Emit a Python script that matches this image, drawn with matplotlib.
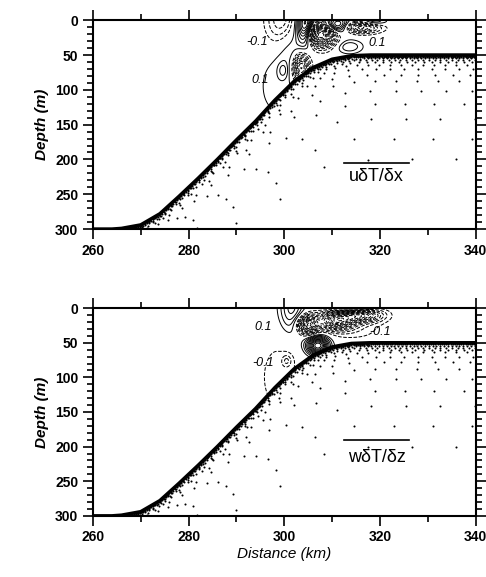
import numpy as np
import matplotlib.pyplot as plt
from matplotlib.lines import Line2D

plt.rcParams['font.family'] = ['Liberation Sans', 'DejaVu Sans']

# bottom profile (km, m)
shelf_x = [260, 264, 266, 270, 274, 278, 282, 286, 290, 294, 298, 302, 306, 310, 314, 318, 340]
shelf_depth = [300, 300, 299, 294, 278, 253, 227, 200, 172, 145, 115, 88, 68, 56, 51, 50, 50]

# contour field, described as blobs (centre km, centre m, width km, width m, amplitude)
top_bx = [299.3, 304.5, 307.5, 311.0, 315.5, 318.5, 303.5, 313.5, 299.7, 301.5, 298.5]
top_bz = [0.0, 10.0, 20.0, 8.0, 10.0, 2.0, 68.0, 38.0, 72.0, 40.0, 95.0]
top_bsx = [2.2, 1.3, 2.2, 2.0, 3.0, 2.0, 1.2, 2.0, 0.75, 2.0, 3.0]
top_bsz = [25.0, 18.0, 12.0, 8.0, 6.0, 4.0, 14.0, 7.0, 8.0, 25.0, 35.0]
top_bamp = [-0.4, 1.2, -1.5, 1.0, -0.8, 0.4, -1.0, 0.3, 0.2, 0.2, 0.16]

bot_bx = [301.5, 305.0, 311.0, 316.0, 314.0, 307.0, 300.5, 299.0, 315.0]
bot_bz = [0.0, 24.0, 18.0, 10.0, 0.0, 54.0, 76.0, 100.0, 30.0]
bot_bsx = [1.8, 1.5, 2.5, 3.0, 3.0, 1.6, 0.7, 3.5, 4.0]
bot_bsz = [25.0, 9.0, 9.0, 7.0, 5.0, 9.0, 6.0, 45.0, 12.0]
bot_bamp = [0.45, -1.2, -1.2, -1.0, 0.6, 1.2, -0.22, -0.15, -0.15]

levels = [-1.5, -1.4, -1.3, -1.2, -1.1, -1.0, -0.9, -0.8, -0.7, -0.6, -0.5, -0.4, -0.3, -0.2, -0.1,
          0.1, 0.2, 0.3, 0.4, 0.5, 0.6, 0.7, 0.8, 0.9, 1.0, 1.1, 1.2, 1.3, 1.4, 1.5]

# stipple rows below the bottom: offset (m) and dot spacing (km)
stip_off = [1.0, 2.5, 4.5, 7.0, 10.0, 14.0, 20.0, 28.0, 38.0, 52.0, 70.0, 92.0, 120.0, 150.0]
stip_dx = [0.25, 0.45, 0.8, 1.2, 1.7, 2.3, 2.9, 3.6, 4.4, 5.3, 6.2, 7.2, 8.2, 9.2]

top_labels = [(294.4, 31, '-0.1'), (319.5, 33, '0.1'), (295.0, 86, '0.1')]
bot_labels = [(295.5, 27, '0.1'), (320.0, 35, '-0.1'), (295.5, 79, '-0.1')]

gx = np.linspace(260, 340, 801)
gz = np.linspace(0, 300, 601)
X, Z = np.meshgrid(gx, gz)
bottom = np.interp(gx, shelf_x, shelf_depth)


def field(bx, bz, bsx, bsz, bamp):
    f = np.zeros_like(X)
    for a, b, c, d, e in zip(bx, bz, bsx, bsz, bamp):
        f += e * np.exp(-0.5 * ((X - a) / c) ** 2 - 0.5 * ((Z - b) / d) ** 2)
    return np.ma.masked_where(Z > bottom[None, :] + 0.5, f)


def stipple(ax):
    for k, (off, dx) in enumerate(zip(stip_off, stip_dx)):
        sx = np.arange(262 + (k * 0.618 % 1) * dx, 340, dx)
        sz = np.interp(sx, shelf_x, shelf_depth) + off
        ax.scatter(sx, sz, s=2.2, color='black', linewidths=0, clip_on=True)


def panel(ax, F, labels, name, name_z, bar_z):
    stipple(ax)
    ax.contour(gx, gz, F, levels=levels, colors='black', linewidths=0.7,
               linestyles=['--' if l < 0 else '-' for l in levels])
    ax.plot(shelf_x, shelf_depth, color='black', lw=2.5)
    for x, z, s in labels:
        ax.text(x, z, s, fontsize=9, style='italic', ha='center', va='center')
    ax.text(319.3, name_z, name, fontsize=13, ha='center', va='center')
    ax.add_line(Line2D([0.655, 0.826], [1 - bar_z / 300] * 2,
                       transform=ax.transAxes, color='black', lw=1.2))
    ax.set_xlim(260, 340)
    ax.set_ylim(300, 0)
    ax.set_xticks([260, 280, 300, 320, 340])
    ax.set_xticks(np.arange(270, 340, 20), minor=True)
    ax.set_yticks([0, 50, 100, 150, 200, 250, 300])
    ax.set_yticks(np.arange(0, 301, 10), minor=True)
    ax.tick_params(which='both', direction='out', top=True, right=True, width=1.2)
    ax.tick_params(which='major', length=7, labelsize=10)
    ax.tick_params(which='minor', length=4)
    for lab in ax.get_xticklabels() + ax.get_yticklabels():
        lab.set_fontweight('bold')
    for sp in ax.spines.values():
        sp.set_linewidth(1.5)
    ax.set_ylabel('Depth (m)', fontsize=11, style='italic', fontweight='bold', labelpad=4)


fig = plt.figure(figsize=(4.86, 5.77), dpi=100)
ax1 = fig.add_axes([0.191, 0.603, 0.788, 0.362])
ax2 = fig.add_axes([0.191, 0.106, 0.788, 0.360])

panel(ax1, field(top_bx, top_bz, top_bsx, top_bsz, top_bamp), top_labels, 'uδT/δx', 225, 205)
panel(ax2, field(bot_bx, bot_bz, bot_bsx, bot_bsz, bot_bamp), bot_labels, 'wδT/δz', 216, 191)
ax2.set_xlabel('Distance (km)', fontsize=11, style='italic', labelpad=2)

fig.savefig('out.png', dpi=100)
